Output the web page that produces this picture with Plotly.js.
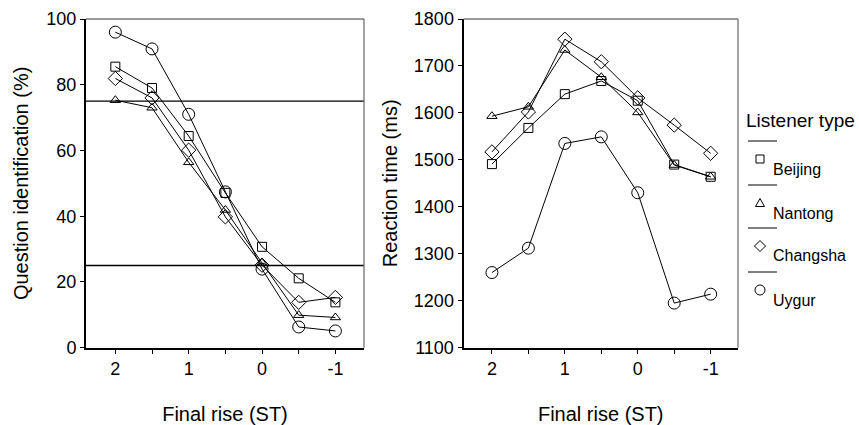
<!DOCTYPE html>
<html>
<head>
<meta charset="utf-8">
<script src="https://cdn.plot.ly/plotly-3.0.1.min.js"></script>
<style>html,body{margin:0;padding:0;background:#fff;}#chart{width:859px;height:425px;}</style>
</head>
<body>
<div id="chart"></div>
<script>
// ---- data ----
const finalRise = [2, 1.5, 1, 0.5, 0, -0.5, -1];
const xTickVals = [2, 1.5, 1, 0.5, 0, -0.5, -1];
const xTickText = ['2', '', '1', '', '0', '', '-1'];
const listenerTypes = ['Beijing', 'Nantong', 'Changsha', 'Uygur'];

const beijingId  = [85.5, 79.0, 64.4, 47.1, 30.7, 21.1, 13.8];
const nantongId  = [75.3, 73.0, 56.4, 41.9, 25.8, 9.9, 9.2];
const changshaId = [81.9, 76.0, 60.1, 39.8, 25.1, 13.8, 15.3];
const uygurId    = [96.0, 90.9, 71.0, 47.4, 23.9, 6.3, 5.1];

const beijingRT  = [1491, 1568, 1640, 1668, 1626, 1490, 1464];
const nantongRT  = [1593, 1613, 1734, 1676, 1601, 1489, 1464];
const changshaRT = [1517, 1602, 1757, 1709, 1632, 1574, 1514];
const uygurRT    = [1260, 1312, 1535, 1549, 1430, 1195, 1214];

const thresholds = [75, 25];

// ---- styling ----
const W = 859, H = 425;
const FONT = 'Liberation Sans, Arial, Helvetica, sans-serif';
const symbols = {Beijing: 'square-open', Nantong: 'triangle-up-open', Changsha: 'diamond-open', Uygur: 'circle-open'};
const msize = {Beijing: 9, Nantong: 9, Changsha: 11, Uygur: 12};
const idData = {Beijing: beijingId, Nantong: nantongId, Changsha: changshaId, Uygur: uygurId};
const rtData = {Beijing: beijingRT, Nantong: nantongRT, Changsha: changshaRT, Uygur: uygurRT};

const traces = [];
listenerTypes.forEach(function (name) {
  traces.push({x: finalRise, y: idData[name], xaxis: 'x', yaxis: 'y', type: 'scatter', mode: 'lines+markers', name: name,
    showlegend: false, line: {color: '#000', width: 1},
    marker: {symbol: symbols[name], size: msize[name], color: '#000', line: {color: '#000', width: 1}}});
  traces.push({x: finalRise, y: rtData[name], xaxis: 'x2', yaxis: 'y2', type: 'scatter', mode: 'lines+markers', name: name,
    showlegend: false, line: {color: '#000', width: 1},
    marker: {symbol: symbols[name], size: msize[name], color: '#000', line: {color: '#000', width: 1}}});
});

function px(x) { return x / W; }
function py(y) { return 1 - y / H; }

const yDom = [py(347.7), py(19)];
const axBase = {
  showgrid: false, zeroline: false, showline: true, linecolor: '#000', linewidth: 2,
  ticks: 'outside', ticklen: 4, tickwidth: 1, tickcolor: '#000',
  tickfont: {family: FONT, size: 18, color: '#000'}
};

const shapes = [];
// thresholds
thresholds.forEach(function (t) {
  shapes.push({type: 'line', xref: 'x domain', yref: 'y', x0: 0, x1: 1, y0: t, y1: t, line: {color: '#000', width: 1.3}});
});
// gray frame (top & right) for both panels
['x', 'x2'].forEach(function (xa, i) {
  const ya = i === 0 ? 'y' : 'y2';
  shapes.push({type: 'line', xref: xa + ' domain', yref: ya + ' domain', x0: 0, x1: 1, y0: 1, y1: 1, line: {color: '#777', width: 1.5}});
  shapes.push({type: 'line', xref: xa + ' domain', yref: ya + ' domain', x0: 1, x1: 1, y0: 0, y1: 1, line: {color: '#666', width: 1.2}});
});

// legend (drawn manually to mimic reference)
const annotations = [];
annotations.push({xref: 'paper', yref: 'paper', x: px(744), y: py(121), xanchor: 'left', yanchor: 'middle', showarrow: false,
  text: 'Listener type', font: {family: FONT, size: 19, color: '#000'}});
const legLineY = [141, 185, 228, 272];
listenerTypes.forEach(function (name, i) {
  const ly = legLineY[i];
  shapes.push({type: 'line', xref: 'paper', yref: 'paper', x0: px(748), x1: px(777), y0: py(ly), y1: py(ly), line: {color: '#000', width: 1}});
  const cx = 760, cy = ly + 18;
  let path;
  if (name === 'Beijing') {
    shapes.push({type: 'rect', xref: 'paper', yref: 'paper', x0: px(cx - 4), x1: px(cx + 4), y0: py(cy - 4), y1: py(cy + 4), line: {color: '#000', width: 1}});
  } else if (name === 'Nantong') {
    path = 'M' + px(cx) + ',' + py(cy - 4.5) + ' L' + px(cx + 4.5) + ',' + py(cy + 3.5) + ' L' + px(cx - 4.5) + ',' + py(cy + 3.5) + ' Z';
    shapes.push({type: 'path', xref: 'paper', yref: 'paper', path: path, line: {color: '#000', width: 1}});
  } else if (name === 'Changsha') {
    path = 'M' + px(cx) + ',' + py(cy - 5.5) + ' L' + px(cx + 5.5) + ',' + py(cy) + ' L' + px(cx) + ',' + py(cy + 5.5) + ' L' + px(cx - 5.5) + ',' + py(cy) + ' Z';
    shapes.push({type: 'path', xref: 'paper', yref: 'paper', path: path, line: {color: '#000', width: 1}});
  } else {
    shapes.push({type: 'circle', xref: 'paper', yref: 'paper', x0: px(cx - 5), x1: px(cx + 5), y0: py(cy - 5), y1: py(cy + 5), line: {color: '#000', width: 1}});
  }
  annotations.push({xref: 'paper', yref: 'paper', x: px(771), y: py(ly + 28), xanchor: 'left', yanchor: 'middle', showarrow: false,
    text: name, font: {family: FONT, size: 16, color: '#000'}});
});

const titleFont = {family: FONT, size: 20, color: '#000'};
const layout = {
  width: W, height: H,
  margin: {l: 0, r: 0, t: 0, b: 0},
  paper_bgcolor: '#fff', plot_bgcolor: '#fff',
  showlegend: false,
  font: {family: FONT, color: '#000'},
  xaxis: Object.assign({}, axBase, {domain: [px(86), px(364)], anchor: 'y', range: [2.4, -1.39],
    tickmode: 'array', tickvals: xTickVals, ticktext: xTickText, automargin: false,
    title: {text: 'Final rise (ST)', font: titleFont, standoff: 31}}),
  yaxis: Object.assign({}, axBase, {domain: yDom, anchor: 'x', range: [0, 100], dtick: 20, tick0: 0, automargin: false,
    title: {text: 'Question identification (%)', font: titleFont, standoff: 12}}),
  xaxis2: Object.assign({}, axBase, {domain: [px(463.5), px(738)], anchor: 'y2', range: [2.39, -1.375],
    tickmode: 'array', tickvals: xTickVals, ticktext: xTickText, automargin: false,
    title: {text: 'Final rise (ST)', font: titleFont, standoff: 31}}),
  yaxis2: Object.assign({}, axBase, {domain: yDom, anchor: 'x2', range: [1100, 1800], dtick: 100, tick0: 1100, automargin: false,
    title: {text: 'Reaction time (ms)', font: titleFont, standoff: 11}}),
  shapes: shapes,
  annotations: annotations
};

Plotly.newPlot('chart', traces, layout, {displayModeBar: false, staticPlot: true});
</script>
</body>
</html>
